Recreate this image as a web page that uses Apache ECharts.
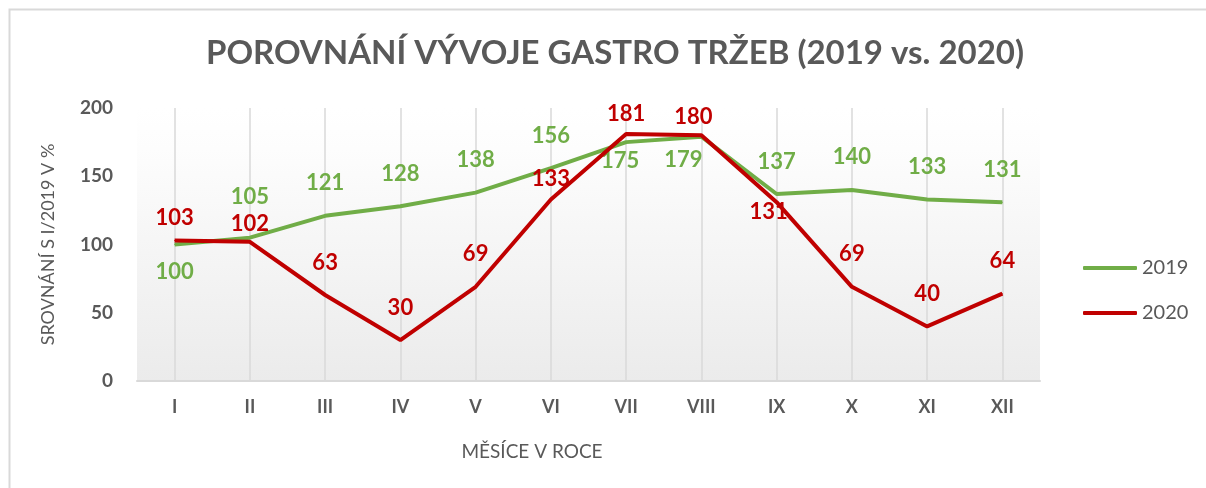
<!DOCTYPE html>
<html>
<head>
<meta charset="utf-8">
<script src="https://cdn.jsdelivr.net/npm/echarts@6/dist/echarts.min.js"></script>
<style>
  html, body { margin: 0; padding: 0; background: #fff; }
  #chart { width: 1206px; height: 488px; }
</style>
</head>
<body>
<div id="chart"></div>
<script>
// data
var months = ['I', 'II', 'III', 'IV', 'V', 'VI', 'VII', 'VIII', 'IX', 'X', 'XI', 'XII'];
var values2019 = [100, 105, 121, 128, 138, 156, 175, 179, 137, 140, 133, 131];
var values2020 = [103, 102, 63, 30, 69, 133, 181, 180, 131, 69, 40, 64];
var yTicks = [0, 50, 100, 150, 200];

var green = '#70ad47';
var red = '#c00000';
var grey = '#595959';
var font = 'Lato';

// label tweaks per point (index -> label settings), default is above the point
var tweak2019 = {
  0: { position: 'bottom', distance: 16 },
  1: { distance: 29 },
  6: { position: 'bottom', distance: 7, offset: [-6, 0] },
  7: { position: 'bottom', distance: 12, offset: [-18, 0] }
};
var tweak2020 = {
  0: { distance: 11 },
  1: { distance: 6 },
  5: { distance: 9 },
  6: { distance: 9 },
  7: { distance: 7, offset: [-8, 0] },
  8: { position: 'bottom', distance: -2, offset: [-8, 0] }
};

function withLabels(values, tweaks) {
  return values.map(function (v, i) {
    return tweaks[i] ? { value: v, label: tweaks[i] } : v;
  });
}

var chartDom = document.getElementById('chart');
var myChart = echarts.init(chartDom);
var option;
option = {
  animation: false,
  textStyle: { fontFamily: font },
  title: {
    text: 'POROVNÁNÍ VÝVOJE GASTRO TRŽEB (2019 vs. 2020)',
    left: 610,
    textAlign: 'center',
    top: 32,
    textStyle: { color: grey, fontSize: 33, fontWeight: 'bold', fontFamily: font }
  },
  legend: {
    orient: 'vertical',
    left: 1078,
    top: 253,
    itemWidth: 54,
    itemHeight: 4,
    itemGap: 25,
    icon: 'roundRect',
    textStyle: { color: grey, fontSize: 20, fontFamily: font },
    data: ['2019', '2020']
  },
  grid: {
    left: 137,
    right: 166,
    top: 108,
    bottom: 107,
    show: true,
    borderWidth: 0,
    backgroundColor: new echarts.graphic.LinearGradient(0, 0, 0, 1, [
      { offset: 0, color: '#ffffff' },
      { offset: 0.15, color: '#fdfdfd' },
      { offset: 1, color: '#ebebeb' }
    ])
  },
  xAxis: {
    type: 'category',
    data: months,
    boundaryGap: true,
    axisLine: { lineStyle: { color: '#d9d9d9', width: 2 } },
    axisTick: {
      show: true,
      alignWithLabel: true,
      inside: true,
      length: 273,
      lineStyle: { color: '#d9d9d9', width: 1.5 }
    },
    axisLabel: { color: grey, fontSize: 18, fontWeight: 'bold', margin: 17, fontFamily: font }
  },
  yAxis: {
    type: 'value',
    min: yTicks[0],
    max: yTicks[yTicks.length - 1],
    interval: 50,
    name: 'SROVNÁNÍ S I/2019 V %',
    nameLocation: 'middle',
    nameGap: 80,
    nameTextStyle: { color: grey, fontSize: 18, fontFamily: font },
    axisLine: { show: false },
    axisTick: { show: false },
    splitLine: { show: false },
    axisLabel: { color: grey, fontSize: 19, fontWeight: 'bold', margin: 24, fontFamily: font }
  },
  graphic: [
    {
      type: 'text',
      x: 532,
      y: 452,
      style: {
        text: 'MĚSÍCE V ROCE',
        fill: grey,
        fontSize: 19,
        fontFamily: font,
        textAlign: 'center',
        textVerticalAlign: 'middle'
      }
    },
    {
      type: 'polyline',
      shape: { points: [[9.5, 488], [9.5, 9.5], [1206, 9.5]] },
      style: { stroke: '#d9d9d9', lineWidth: 2, fill: null }
    }
  ],
  series: [
    {
      name: '2019',
      type: 'line',
      data: withLabels(values2019, tweak2019),
      symbol: 'circle',
      symbolSize: 1,
      showSymbol: true,
      color: green,
      lineStyle: { color: green, width: 4 },
      label: {
        show: true,
        position: 'top',
        distance: 21,
        color: green,
        fontSize: 22,
        fontWeight: 'bold',
        fontFamily: font
      },
      z: 2
    },
    {
      name: '2020',
      type: 'line',
      data: withLabels(values2020, tweak2020),
      symbol: 'circle',
      symbolSize: 1,
      showSymbol: true,
      color: red,
      lineStyle: { color: red, width: 4 },
      label: {
        show: true,
        position: 'top',
        distance: 21,
        color: red,
        fontSize: 22,
        fontWeight: 'bold',
        fontFamily: font
      },
      z: 3
    }
  ]
};
option && myChart.setOption(option);
</script>
</body>
</html>
